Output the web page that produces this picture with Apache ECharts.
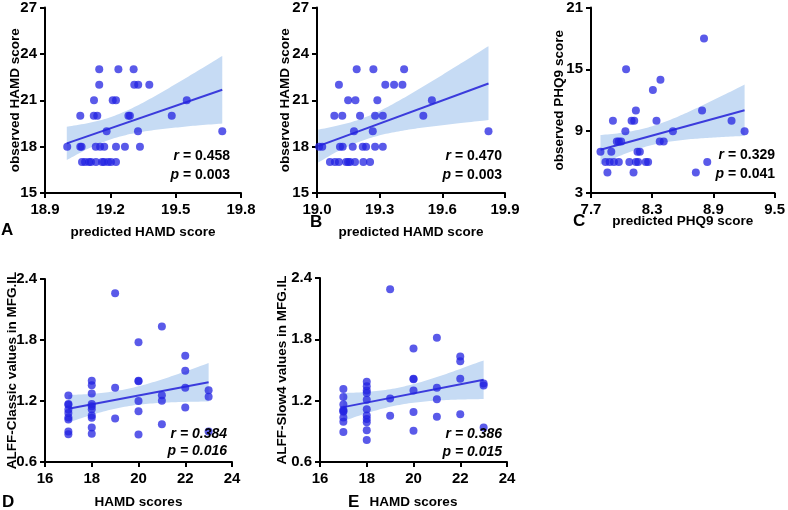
<!DOCTYPE html>
<html><head><meta charset="utf-8">
<script src="https://cdn.jsdelivr.net/npm/echarts@6/dist/echarts.min.js"></script>
<style>html,body{margin:0;padding:0;background:#fff}#c{width:788px;height:510px}</style>
</head><body><div id="c"></div>
<script>
// ---------- Panel A ----------
const aPredicted = [19.149,19.237,19.307, 19.149,19.310,19.328,19.379, 19.125,19.211,19.226,19.551, 19.062,19.124,19.140,19.283,19.290,19.482, 19.183,19.327,19.714, 19.002,19.062,19.068,19.133,19.153,19.172,19.226,19.267,19.336, 19.070,19.084,19.102,19.111,19.134,19.162,19.171,19.190,19.203,19.226];
const aObserved  = [23,23,23, 22,22,22,22, 21,21,21,21, 20,20,20,20,20,20, 19,19,19, 18,18,18,18,18,18,18,18,18, 17,17,17,17,17,17,17,17,17,17];
const aFitX = [19.00, 19.714];
const aFitY = [18.21, 21.68];
const aBandX  = [19.00,19.10,19.20,19.30,19.40,19.50,19.60,19.714];
const aBandLo = [17.13,17.88,18.46,18.84,19.07,19.23,19.37,19.49];
const aBandHi = [19.29,19.53,19.90,20.49,21.23,22.05,22.89,23.87];
const aXTicks = [18.9,19.2,19.5,19.8];
const aYTicks = [15,18,21,24,27];

// ---------- Panel B ----------
const bPredicted = [19.190,19.270,19.417, 19.105,19.327,19.369,19.409, 19.149,19.184,19.289,19.550, 19.083,19.121,19.206,19.278,19.315,19.509, 19.177,19.267,19.821, 19.010,19.025,19.110,19.123,19.171,19.219,19.235,19.278,19.315, 19.062,19.086,19.105,19.139,19.149,19.158,19.182,19.222,19.254];
const bObserved  = [23,23,23, 22,22,22,22, 21,21,21,21, 20,20,20,20,20,20, 19,19,19, 18,18,18,18,18,18,18,18,18, 17,17,17,17,17,17,17,17,17];
const bFitX = [19.006, 19.821];
const bFitY = [18.03, 22.08];
const bBandX  = [19.006,19.10,19.20,19.30,19.40,19.50,19.60,19.70,19.821];
const bBandLo = [16.97,17.70,18.30,18.73,19.01,19.22,19.38,19.54,19.72];
const bBandHi = [19.10,19.36,19.74,20.31,21.03,21.82,22.64,23.48,24.50];
const bXTicks = [19.0,19.3,19.6,19.9];
const bYTicks = [15,18,21,24,27];

// ---------- Panel C ----------
const cPredicted = [8.808, 8.044, 8.381, 8.307, 8.140,8.789, 7.915,8.098,8.124,8.342,9.078, 8.037,8.503,9.206, 7.953,7.973,7.996,8.374,8.413, 7.793,7.899,8.156,8.179, 7.842,7.883,7.925,7.973,8.076,8.140,8.162,8.237,8.260,8.840, 7.861,8.117,8.728];
const cObserved  = [18, 15, 14, 13, 11,11, 10,10,10,10,10, 9,9,9, 8,8,8,8,8, 7,7,7,7, 6,6,6,6,6,6,6,6,6,6, 5,5,5];
const cFitX = [7.793, 9.206];
const cFitY = [7.19, 11.03];
const cBandX  = [7.793,8.0,8.2,8.4,8.6,8.8,9.0,9.206];
const cBandLo = [5.76,6.67,7.39,7.87,8.15,8.32,8.44,8.54];
const cBandHi = [8.62,8.84,9.21,9.81,10.62,11.54,12.50,13.52];
const cXTicks = [7.7,8.3,8.9,9.5];
const cYTicks = [3,9,15,21];

// ---------- Panel D ----------
const dHamd = [17,17,17,17,17,17,17,17,17, 18,18,18,18,18,18,18,18,18,18, 19,19,19, 20,20,20,20,20,20, 21,21,21,21, 22,22,22,22, 23,23,23];
const dAlff = [1.253,1.171,1.162,1.117,1.082,1.038,1.019,0.901,0.873, 1.400,1.355,1.273,1.171,1.149,1.120,1.057,1.035,0.939,0.879, 2.260,1.330,1.029, 1.778,1.400,1.394,1.200,1.098,0.870, 1.933,1.257,1.203,0.971, 1.644,1.498,1.330,1.137, 1.305,1.241,0.900];
const dFitX = [17, 23];
const dFitY = [1.124, 1.384];
const dBandX  = [17,18,19,20,21,22,23];
const dBandLo = [0.989,1.063,1.125,1.163,1.182,1.191,1.195];
const dBandHi = [1.259,1.271,1.297,1.345,1.412,1.491,1.573];
const dXTicks = [16,18,20,22,24];
const dYTicks = [0.6,1.2,1.8,2.4];

// ---------- Panel E ----------
const eHamd = [17,17,17,17,17,17,17,17,17, 18,18,18,18,18,18,18,18,18,18,18, 19,19,19, 20,20,20,20,20,20, 21,21,21,21, 22,22,22,22, 23,23,23];
const eAlff = [1.313,1.237,1.162,1.110,1.100,1.092,1.035,0.994,0.894, 1.385,1.340,1.300,1.275,1.210,1.115,1.055,1.020,0.990,0.910,0.815, 2.289,1.222,1.052, 1.711,1.415,1.410,1.300,1.089,0.906, 1.816,1.326,1.213,1.042, 1.633,1.585,1.415,1.067, 1.367,1.348,0.938];
const eFitX = [17, 23];
const eFitY = [1.137, 1.405];
const eBandX  = [17,18,19,20,21,22,23];
const eBandLo = [1.000,1.078,1.140,1.180,1.201,1.211,1.216];
const eBandHi = [1.274,1.286,1.312,1.362,1.431,1.511,1.594];
const eXTicks = [16,18,20,22,24];
const eYTicks = [0.6,1.2,1.8,2.4];

const statsText = [
  ['0.458','0.003'], ['0.470','0.003'], ['0.329','0.041'], ['0.384','0.016'], ['0.386','0.015']
];

const FONT = "'Liberation Sans', Arial, Helvetica, sans-serif";
const zip = (xs, ys) => xs.map((x, i) => [x, ys[i]]);

// smooth a pixel-space polyline (Catmull-Rom) for drawing only
function catmull(pts) {
  const out = [];
  const n = pts.length;
  for (let i = 0; i < n - 1; i++) {
    const p0 = pts[Math.max(i - 1, 0)], p1 = pts[i], p2 = pts[i + 1], p3 = pts[Math.min(i + 2, n - 1)];
    for (let s = 0; s < 10; s++) {
      const t = s / 10, t2 = t * t, t3 = t2 * t;
      const f = (a, b, c, d) => 0.5 * ((2 * b) + (-a + c) * t + (2 * a - 5 * b + 4 * c - d) * t2 + (-a + 3 * b - 3 * c + d) * t3);
      out.push([f(p0[0], p1[0], p2[0], p3[0]), f(p0[1], p1[1], p2[1], p3[1])]);
    }
  }
  out.push(pts[n - 1]);
  return out;
}

const panels = [
  {x:aPredicted, y:aObserved, fx:aFitX, fy:aFitY, bx:aBandX, lo:aBandLo, hi:aBandHi, xt:aXTicks, yt:aYTicks, xd:1, yd:0,
   grid:{left:45, top:7, width:196, height:186}, xName:'predicted HAMD score', yName:'observed HAMD score', xGap:32, yGap:23},
  {x:bPredicted, y:bObserved, fx:bFitX, fy:bFitY, bx:bBandX, lo:bBandLo, hi:bBandHi, xt:bXTicks, yt:bYTicks, xd:1, yd:0,
   grid:{left:317, top:7, width:188, height:186}, xName:'predicted HAMD score', yName:'observed HAMD score', xGap:32, yGap:25},
  {x:cPredicted, y:cObserved, fx:cFitX, fy:cFitY, bx:cBandX, lo:cBandLo, hi:cBandHi, xt:cXTicks, yt:cYTicks, xd:1, yd:0,
   grid:{left:591, top:6, width:187, height:187}, xName:'predicted PHQ9 score', yName:'observed PHQ9 score', xGap:21, yGap:25},
  {x:dHamd, y:dAlff, fx:dFitX, fy:dFitY, bx:dBandX, lo:dBandLo, hi:dBandHi, xt:dXTicks, yt:dYTicks, xd:0, yd:1,
   grid:{left:45, top:279, width:187, height:189}, xName:'HAMD scores', yName:'ALFF-Classic values in MFG.IL', xGap:33, yGap:26},
  {x:eHamd, y:eAlff, fx:eFitX, fy:eFitY, bx:eBandX, lo:eBandLo, hi:eBandHi, xt:eXTicks, yt:eYTicks, xd:0, yd:1,
   grid:{left:320, top:278, width:187, height:190}, xName:'HAMD scores', yName:'ALFF-Slow4 values in MFG.IL', xGap:33, yGap:31}
];

const grids = [], xAxes = [], yAxes = [], series = [];
panels.forEach((p, i) => {
  grids.push(Object.assign({containLabel:false}, p.grid));
  const axisCommon = (ticks, digits, name, gap) => ({
    gridIndex: i, type: 'value',
    min: ticks[0], max: ticks[ticks.length - 1],
    name: name, nameLocation: 'middle', nameGap: gap, nameMoveOverlap: false,
    nameTextStyle: {fontFamily: FONT, fontWeight: 'bold', fontSize: 13.5, color: '#000'},
    axisLine: {show: true, onZero: false, lineStyle: {color: '#000', width: 2}},
    axisTick: {show: true, inside: false, length: 5, customValues: ticks, lineStyle: {color: '#000', width: 2}},
    axisLabel: {customValues: ticks, margin: 8, fontFamily: FONT, fontWeight: 'bold', fontSize: 15, color: '#000',
      formatter: v => Number(v).toFixed(digits)},
    splitLine: {show: false}
  });
  const xa = axisCommon(p.xt, p.xd, p.xName, p.xGap);
  xa.axisLabel.margin = 9;
  xAxes.push(xa);
  yAxes.push(axisCommon(p.yt, p.yd, p.yName, p.yGap));

  // confidence band drawn from the band arrays through the axis scales
  series.push({
    type: 'custom', xAxisIndex: i, yAxisIndex: i, silent: true, z: 1,
    data: [[p.bx[0], p.lo[0]]],
    renderItem: (params, api) => {
      const up = p.bx.map((x, k) => api.coord([x, p.hi[k]]));
      const dn = p.bx.map((x, k) => api.coord([x, p.lo[k]]));
      const pts = catmull(up).concat(catmull(dn).reverse());
      return {type: 'polygon', shape: {points: pts}, style: {fill: '#c6dbf4'}};
    }
  });
  series.push({
    type: 'line', xAxisIndex: i, yAxisIndex: i, symbol: 'none', silent: true,
    lineStyle: {color: '#3b3bdc', width: 2}, data: zip(p.fx, p.fy), z: 3
  });
  series.push({
    type: 'scatter', xAxisIndex: i, yAxisIndex: i, symbol: 'circle', symbolSize: 8,
    itemStyle: {color: '#2323e2', opacity: 0.75}, data: zip(p.x, p.y), z: 4, clip: false
  });
});

// stats text and panel letters
const statPos = [
  {x:230, y1:156, y2:175, italic:false},
  {x:502, y1:156, y2:175, italic:false},
  {x:775, y1:155, y2:174, italic:false},
  {x:227, y1:434, y2:451, italic:true},
  {x:502, y1:434, y2:452, italic:true}
];
const graphics = [];
statPos.forEach((s, i) => {
  const mk = (letter, val, y) => ({
    type: 'text', x: s.x, y: y, z: 100,
    style: {
      text: '{l|' + letter + '}{n| = ' + val + '}',
      align: 'right', verticalAlign: 'middle', fill: '#000',
      fontFamily: FONT, fontSize: 14, fontWeight: 'bold',
      rich: {
        l: {fontFamily: FONT, fontSize: 14, fontWeight: 'bold', fontStyle: 'italic', fill: '#000'},
        n: {fontFamily: FONT, fontSize: 14, fontWeight: 'bold', fontStyle: s.italic ? 'italic' : 'normal', fill: '#000'}
      }
    }
  });
  graphics.push(mk('r', statsText[i][0], s.y1));
  graphics.push(mk('p', statsText[i][1], s.y2));
});
const letters = [['A',1,230],['B',310,222],['C',573,221],['D',2,502],['E',348,502]];
letters.forEach(l => graphics.push({
  type: 'text', x: l[1], y: l[2], z: 100,
  style: {text: l[0], fontFamily: FONT, fontSize: 17, fontWeight: 'bold', fill: '#000', align: 'left', verticalAlign: 'middle'}
}));

const chart = echarts.init(document.getElementById('c'), null, {renderer: 'canvas'});
chart.setOption({
  animation: false,
  backgroundColor: '#fff',
  grid: grids, xAxis: xAxes, yAxis: yAxes, series: series, graphic: graphics
});
</script></body></html>
